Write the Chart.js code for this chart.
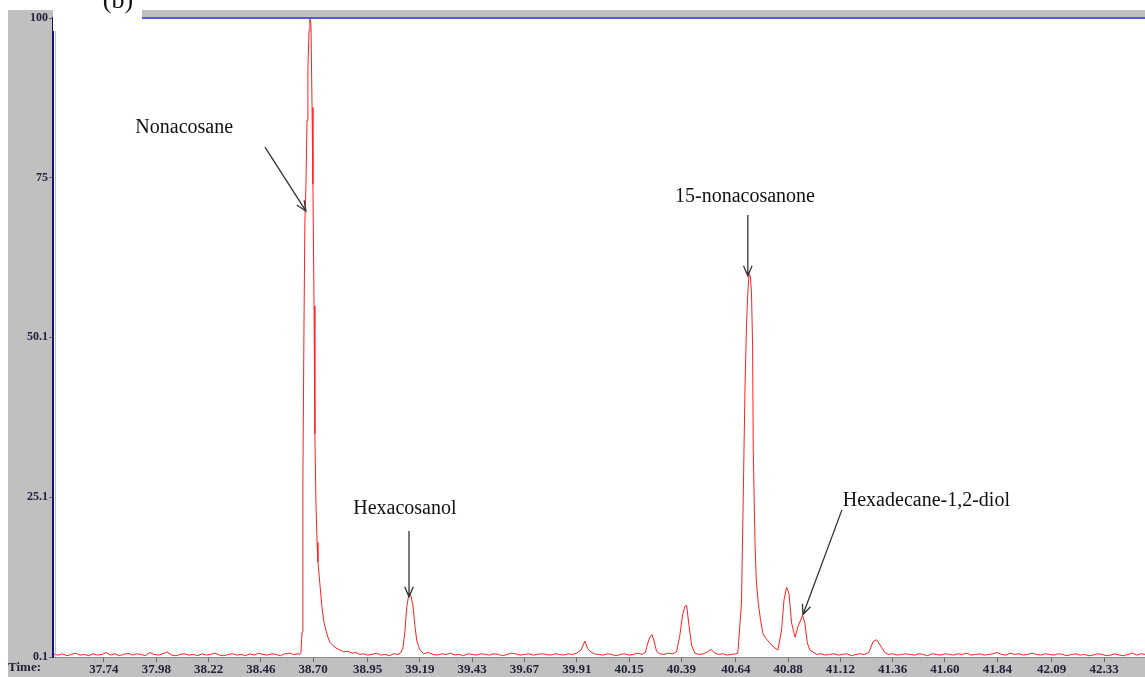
<!DOCTYPE html>
<html lang="en">
<head>
  <meta charset="UTF-8">
  <title>GC-MS chromatogram (b)</title>
  <script src="https://cdn.jsdelivr.net/npm/chart.js@4.4.1/dist/chart.umd.min.js"></script>
  <style>
    html, body { margin: 0; padding: 0; background: #fff; }
    canvas { display: block; }
  </style>
</head>
<body>
  <canvas id="gcChart" width="1145" height="677"></canvas>

  <script>
    // retention time (min) and relative abundance (%)
    const retTime = [
      37.51, 37.53, 37.55, 37.57, 37.59, 37.61, 37.63, 37.65, 37.67, 37.69, 37.71, 37.73, 37.75, 37.77, 37.79,
      37.81, 37.83, 37.85, 37.87, 37.89, 37.91, 37.93, 37.95, 37.97, 37.99, 38.01, 38.03, 38.05, 38.07, 38.09,
      38.11, 38.13, 38.15, 38.17, 38.19, 38.21, 38.23, 38.25, 38.27, 38.29, 38.31, 38.33, 38.35, 38.37, 38.39,
      38.41, 38.43, 38.45, 38.47, 38.49, 38.51, 38.53, 38.55, 38.57, 38.59, 38.61, 38.63,
      38.639, 38.644, 38.649, 38.653, 38.658, 38.662, 38.667, 38.672, 38.676, 38.681, 38.685, 38.690, 38.695,
      38.699, 38.704, 38.708, 38.713, 38.718, 38.722, 38.731, 38.740, 38.750, 38.759, 38.768, 38.777, 38.791,
      38.805, 38.823, 38.841, 38.860, 38.878, 38.896, 38.915,
      38.93, 38.95, 38.97, 38.99, 39.01, 39.03, 39.05, 39.07, 39.09,
      39.103, 39.112, 39.121, 39.130, 39.140, 39.149, 39.158, 39.167, 39.176, 39.190, 39.208, 39.227,
      39.25, 39.27, 39.29, 39.31, 39.33, 39.35, 39.37, 39.39, 39.41, 39.43, 39.45, 39.47, 39.49, 39.51, 39.53,
      39.55, 39.57, 39.59, 39.61, 39.63, 39.65, 39.67, 39.69, 39.71, 39.73, 39.75, 39.77, 39.79, 39.81, 39.83,
      39.85, 39.87, 39.89, 39.91, 39.93, 39.947, 39.96, 39.975, 39.99,
      40.01, 40.03, 40.05, 40.07, 40.09, 40.11, 40.13, 40.15, 40.17, 40.19, 40.21, 40.225,
      40.23, 40.245, 40.255, 40.265, 40.276, 40.29, 40.31, 40.33, 40.35,
      40.368, 40.383, 40.396, 40.406, 40.414, 40.426, 40.437, 40.452,
      40.47, 40.49, 40.51, 40.526, 40.54, 40.56, 40.58, 40.60, 40.62, 40.64,
      40.649, 40.666, 40.674, 40.682, 40.689, 40.695, 40.701, 40.707, 40.712, 40.717, 40.720, 40.728, 40.734,
      40.743, 40.753, 40.764, 40.778, 40.796, 40.815, 40.833, 40.850, 40.861, 40.873, 40.884, 40.896, 40.912,
      40.925, 40.946, 40.957, 40.968, 40.980, 41.011,
      41.03, 41.05, 41.07, 41.09, 41.11, 41.13, 41.15, 41.17, 41.19, 41.21, 41.23, 41.25,
      41.255, 41.270, 41.286, 41.296, 41.309, 41.324,
      41.34, 41.36, 41.38, 41.40, 41.42, 41.44, 41.46, 41.48, 41.50, 41.52, 41.54, 41.56, 41.58, 41.60, 41.62,
      41.64, 41.66, 41.68, 41.70, 41.72, 41.74, 41.76, 41.78, 41.80, 41.82, 41.84, 41.86, 41.88, 41.90, 41.92,
      41.94, 41.96, 41.98, 42.00, 42.02, 42.04, 42.06, 42.08, 42.10, 42.12, 42.14, 42.16, 42.18, 42.20, 42.22,
      42.24, 42.26, 42.28, 42.30, 42.32, 42.34, 42.36, 42.38, 42.40, 42.42, 42.44, 42.46, 42.48, 42.50, 42.52
    ];

    const abundance = [
      0.5, 0.4, 0.6, 0.3, 0.5, 0.7, 0.4, 0.5, 0.3, 0.6, 0.4, 0.5, 0.8, 0.4, 0.6,
      0.3, 0.5, 0.7, 0.4, 0.6, 0.5, 0.3, 0.8, 0.5, 0.4, 0.6, 0.9, 0.4, 0.3, 0.5,
      0.6, 0.4, 0.5, 0.3, 0.6, 0.4, 0.5, 0.7, 0.4, 0.3, 0.5, 0.6, 0.4, 0.5, 0.3,
      0.6, 0.4, 0.7, 0.5, 0.4, 0.6, 0.5, 0.3, 0.6, 0.7, 0.5, 0.6,
      0.5, 0.8, 4, 28, 52, 68, 74, 84, 92, 98, 100, 99, 86,
      74, 55, 35, 24, 18, 15, 11.5, 8, 5.5, 4.2, 3.2, 2.4, 1.9,
      1.5, 1.2, 0.9, 1.0, 0.7, 0.8, 0.5,
      0.6, 0.4, 0.5, 0.7, 0.4, 0.5, 0.3, 0.6, 0.5,
      0.8, 1.5, 4.0, 8.0, 10.1, 9.6, 8.2, 5.0, 2.6, 1.2, 0.6, 0.8,
      0.5, 0.4, 0.6, 0.5, 0.7, 0.4, 0.5, 0.3, 0.6, 0.5, 0.4, 0.6, 0.5, 0.4, 0.6,
      0.5, 0.3, 0.5, 0.7, 0.6, 0.4, 0.5, 0.6, 0.4, 0.5, 0.6, 0.5, 0.4, 0.6, 0.5,
      0.4, 0.6, 0.5, 0.7, 1.2, 2.6, 1.4, 0.9, 0.6,
      0.5, 0.4, 0.6, 0.5, 0.3, 0.5, 0.6, 0.4, 0.5, 0.7, 0.5, 0.8,
      1.6, 3.2, 3.6, 2.6, 1.0, 0.6, 0.5, 0.7, 0.6,
      0.9, 3.5, 6.7, 8.0, 8.2, 4.8, 1.9, 0.7,
      0.5, 0.6, 0.9, 1.3, 0.8, 0.5, 0.6, 0.4, 0.5, 0.6,
      0.7, 8.5, 25, 42, 52, 57, 60, 59.5, 57, 48.6, 32.5, 18, 12,
      8.5, 6, 3.8, 3.0, 2.3, 1.6, 1.2, 4.3, 9, 11, 10, 5.4, 3.2,
      4.8, 6.6, 5.4, 2.3, 1.2, 0.5,
      0.6, 0.4, 0.5, 0.6, 0.4, 0.5, 0.6, 0.3, 0.5, 0.6, 0.5, 0.8,
      1.2, 2.5, 2.8, 2.3, 1.6, 0.8,
      0.5, 0.6, 0.4, 0.5, 0.6, 0.5, 0.4, 0.6, 0.5, 0.3, 0.6, 0.5, 0.4, 0.6, 0.5,
      0.4, 0.6, 0.5, 0.7, 0.4, 0.5, 0.6, 0.4, 0.5, 0.6, 0.8, 0.5, 0.4, 0.7, 0.5,
      0.6, 0.4, 0.5, 0.7, 0.5, 0.4, 0.6, 0.5, 0.4, 0.6, 0.5, 0.3, 0.5, 0.6, 0.4,
      0.5, 0.3, 0.4, 0.6, 0.5, 0.3, 0.4, 0.6, 0.4, 0.3, 0.5, 0.7, 0.4, 0.6, 0.5
    ];

    const xTicks = [37.74, 37.98, 38.22, 38.46, 38.70, 38.95, 39.19, 39.43, 39.67, 39.91,
                    40.15, 40.39, 40.64, 40.88, 41.12, 41.36, 41.60, 41.84, 42.09, 42.33];
    const yTicks = [0.1, 25.1, 50.1, 75, 100];

    // peak labels: text position and arrow (tail -> head), in time / abundance units
    const peakNames  = ['Nonacosane', 'Hexacosanol', '15-nonacosanone', 'Hexadecane-1,2-diol'];
    const peakAlign  = ['left', 'center', 'center', 'left'];
    const labelTime  = [37.884, 39.121, 40.682, 41.131];
    const labelLevel = [82.8, 23.2, 72.0, 24.6];
    const arrowFrom  = [[38.479, 79.8], [39.140, 19.8], [40.695, 69.2], [41.127, 23.1]];
    const arrowTo    = [[38.667, 69.8], [39.140, 9.5], [40.695, 59.7], [40.948, 6.7]];

    const serif = '"Liberation Serif", "Times New Roman", serif';

    const framePlugin = {
      id: 'frame',
      beforeDraw(chart) {
        const { ctx, chartArea: a, width, height } = chart;
        ctx.save();
        ctx.fillStyle = '#ffffff';
        ctx.fillRect(0, 0, width, height);
        ctx.fillStyle = '#c0c0c0';
        ctx.fillRect(8, 10, width - 8, height - 10);
        ctx.fillStyle = '#ffffff';
        ctx.fillRect(a.left, a.top, a.right - a.left, a.bottom - a.top);
        ctx.restore();
      },
      afterDraw(chart) {
        const { ctx, chartArea: a, scales } = chart;
        const xs = scales.x, ys = scales.y;
        ctx.save();

        // blue top border
        ctx.strokeStyle = '#5656e8';
        ctx.lineWidth = 2;
        ctx.beginPath();
        ctx.moveTo(a.left, a.top);
        ctx.lineTo(a.right, a.top);
        ctx.stroke();
        // light edge beside the left axis
        ctx.strokeStyle = '#b8b8ff';
        ctx.lineWidth = 1;
        ctx.beginPath();
        ctx.moveTo(a.left + 2.5, a.top);
        ctx.lineTo(a.left + 2.5, a.bottom);
        ctx.stroke();

        // white patch with panel letter
        ctx.fillStyle = '#ffffff';
        ctx.fillRect(a.left, 0, 89, 31);
        ctx.fillStyle = '#111';
        ctx.font = '26px ' + serif;
        ctx.textAlign = 'center';
        ctx.textBaseline = 'alphabetic';
        ctx.fillText('(b)', 118, 8);

        // axis caption
        ctx.font = 'bold 13px ' + serif;
        ctx.fillStyle = '#22223a';
        ctx.textAlign = 'left';
        ctx.textBaseline = 'middle';
        ctx.fillText('Time:', 8, 668);

        // peak labels and arrows
        ctx.font = '20px ' + serif;
        ctx.fillStyle = '#111';
        peakNames.forEach((name, i) => {
          ctx.textAlign = peakAlign[i];
          ctx.fillText(name, xs.getPixelForValue(labelTime[i]), ys.getPixelForValue(labelLevel[i]));

          const x1 = xs.getPixelForValue(arrowFrom[i][0]), y1 = ys.getPixelForValue(arrowFrom[i][1]);
          const x2 = xs.getPixelForValue(arrowTo[i][0]), y2 = ys.getPixelForValue(arrowTo[i][1]);
          const ang = Math.atan2(y2 - y1, x2 - x1);
          ctx.strokeStyle = '#333';
          ctx.lineWidth = 1.3;
          ctx.beginPath();
          ctx.moveTo(x1, y1);
          ctx.lineTo(x2, y2);
          ctx.moveTo(x2 - 11 * Math.cos(ang - 0.4), y2 - 11 * Math.sin(ang - 0.4));
          ctx.lineTo(x2, y2);
          ctx.lineTo(x2 - 11 * Math.cos(ang + 0.4), y2 - 11 * Math.sin(ang + 0.4));
          ctx.stroke();
        });
        ctx.restore();
      }
    };

    const ctx = document.getElementById('gcChart').getContext('2d');
    new Chart(ctx, {
      type: 'line',
      data: {
        datasets: [{
          data: retTime.map((t, i) => ({ x: t, y: abundance[i] })),
          borderColor: '#ff2020',
          borderWidth: 1,
          pointRadius: 0,
          tension: 0
        }]
      },
      options: {
        responsive: false,
        animation: false,
        layout: { padding: { left: 8, top: 18, right: 0, bottom: 0 } },
        plugins: {
          legend: { display: false },
          tooltip: { enabled: false }
        },
        scales: {
          x: {
            type: 'linear',
            min: 37.506,
            max: 42.518,
            afterBuildTicks: s => { s.ticks = xTicks.map(v => ({ value: v })); },
            afterFit: s => { s.height = 20; },
            ticks: {
              autoSkip: false,
              maxRotation: 0,
              padding: 0,
              color: '#22223a',
              font: { family: serif, size: 13, weight: 'bold' },
              callback: v => v.toFixed(2)
            },
            grid: { drawOnChartArea: false, tickLength: 5, tickColor: '#666' },
            border: { color: '#8a8a8a', width: 1 }
          },
          y: {
            min: 0.1,
            max: 100,
            afterBuildTicks: s => { s.ticks = yTicks.map(v => ({ value: v })); },
            afterFit: s => { s.width = 45; },
            ticks: {
              padding: 1,
              color: '#22223a',
              font: { family: serif, size: 12, weight: 'bold' },
              callback: v => String(v)
            },
            grid: { drawOnChartArea: false, tickLength: 4, tickColor: '#666' },
            border: { color: '#14147a', width: 2 }
          }
        }
      },
      plugins: [framePlugin]
    });
  </script>
</body>
</html>
